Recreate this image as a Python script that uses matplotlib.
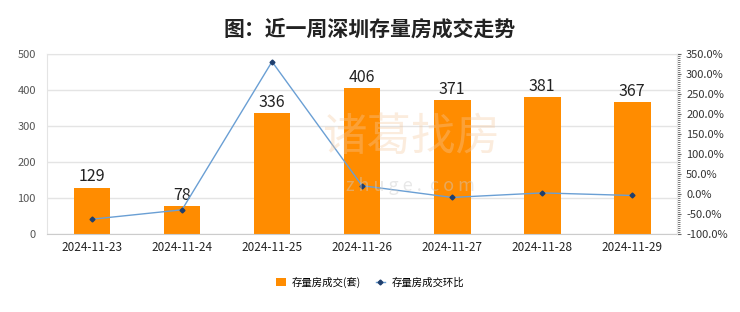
import numpy as np
import matplotlib.pyplot as plt
import matplotlib.ticker as mticker

plt.rcParams['font.family'] = ['Noto Sans CJK SC', 'DejaVu Sans']

# data
dates = ['2024-11-23', '2024-11-24', '2024-11-25', '2024-11-26',
         '2024-11-27', '2024-11-28', '2024-11-29']
deals = [129, 78, 336, 406, 371, 381, 367]
mom_pct = [-63.0, -39.5, 330.8, 20.8, -8.6, 2.7, -3.7]

bar_color = '#ff8c00'
line_color = '#6a9fd4'
marker_color = '#1f3f6e'
grid_color = '#e4e4e4'

fig = plt.figure(figsize=(7.4, 3.12), dpi=100)
ax = fig.add_axes([0.0635, 0.25, 0.8515, 0.577])
x = np.arange(len(dates))

bars = ax.bar(x, deals, width=0.41, color=bar_color, zorder=2, label='存量房成交(套)')
for xi, v in zip(x, deals):
    ax.text(xi, v + 6, str(v), ha='center', va='bottom', fontsize=11.5, color='#222222')

ax.set_xlim(-0.5, len(dates) - 0.5)
ax.set_ylim(0, 500)
ax.set_yticks(range(0, 501, 100))
ax.set_xticks(x)
ax.set_xticklabels(dates, fontsize=8.5, color='#222222')
ax.tick_params(axis='y', length=0, labelsize=8, labelcolor='#555555', pad=8)
ax.tick_params(axis='x', length=0, pad=5)
ax.grid(axis='y', color=grid_color, linewidth=1, zorder=0)
for s in ['left', 'top', 'right']:
    ax.spines[s].set_color(grid_color)
ax.spines['bottom'].set_color('#cccccc')

# watermark
fig.text(0.555, 0.56, '诸葛找房', fontsize=32, color='#f5c9a0', alpha=0.35,
         ha='center', va='center', zorder=0)
fig.text(0.555, 0.405, 'z h u g e .  c o m', fontsize=13, color='#cccccc', alpha=0.45,
         ha='center', va='center', zorder=0)

ax2 = ax.twinx()
ax2.plot(x, mom_pct, color=line_color, linewidth=1, marker='D', markersize=2.5,
         markerfacecolor=marker_color, markeredgecolor=marker_color, zorder=3,
         label='存量房成交环比')
ax2.set_ylim(-100, 350)
ax2.set_yticks(range(-100, 351, 50))
ax2.yaxis.set_major_formatter(mticker.FuncFormatter(lambda v, p: f'{v:.1f}%'))
ax2.yaxis.set_minor_locator(mticker.MultipleLocator(5))
ax2.tick_params(axis='y', which='major', length=3, labelsize=8, labelcolor='#333333', color='#666666')
ax2.tick_params(axis='y', which='minor', length=2, color='#666666')
for s in ['left', 'top', 'bottom']:
    ax2.spines[s].set_visible(False)
ax2.spines['right'].set_color(grid_color)

h1, l1 = ax.get_legend_handles_labels()
h2, l2 = ax2.get_legend_handles_labels()
fig.legend(h1 + h2, l1 + l2, loc='center', bbox_to_anchor=(0.5, 0.095), ncol=2,
           frameon=False, fontsize=7.5, handlelength=0.9, handleheight=0.8,
           handletextpad=0.6, columnspacing=1.4)

fig.suptitle('图：近一周深圳存量房成交走势', fontsize=15, fontweight='bold',
             y=0.94, color='#222222')

plt.savefig('out.png', dpi=100)
